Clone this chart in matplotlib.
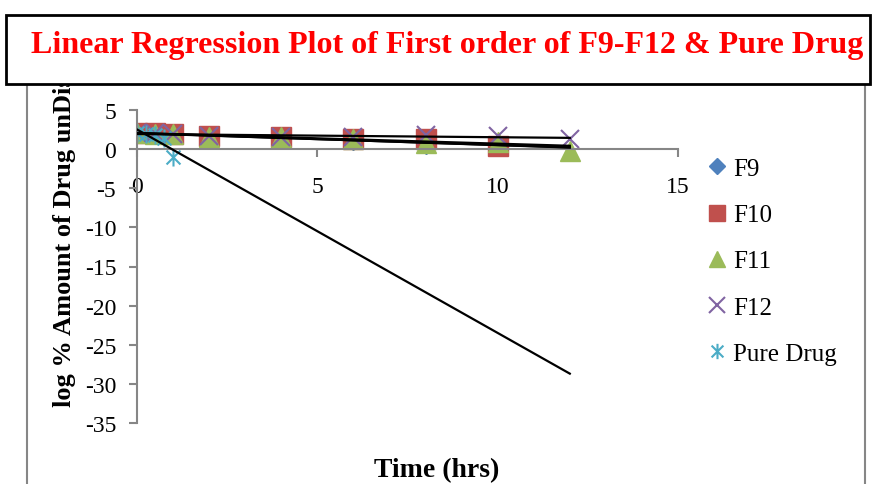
import matplotlib.pyplot as plt
import numpy as np
from matplotlib.path import Path
from matplotlib.patches import Rectangle
from matplotlib.transforms import Bbox, TransformedBbox

# data (log % amount of drug remaining vs time)
time = [0, 0.5, 1, 2, 4, 6, 8, 10, 12]
f9 = [2.0, 1.98, 1.95, 1.7, 1.4, 1.15, 0.6, 0.7]
f10 = [2.0, 2.0, 1.98, 1.65, 1.55, 1.35, 1.28, 0.4]
f11 = [2.0, 1.95, 1.9, 1.6, 1.5, 1.3, 0.8, 0.9, -0.2]
f12 = [2.0, 2.0, 1.98, 1.65, 1.6, 1.55, 1.8, 1.7, 1.3]
pure_time = [0, 0.25, 0.5, 0.75, 1]
pure = [2.0, 1.9, 1.75, 1.4, -1.0]

names = ['F9', 'F10', 'F11', 'F12', 'Pure Drug']
colors = ['#4F81BD', '#C0504D', '#9BBB59', '#8064A2', '#4BACC6']

# asterisk marker: x with a vertical stroke
ast = Path([(-1, -1), (1, 1), (-1, 1), (1, -1), (0, -1.3), (0, 1.3)],
           [Path.MOVETO, Path.LINETO, Path.MOVETO, Path.LINETO, Path.MOVETO, Path.LINETO])

plt.rcParams['font.family'] = ['Liberation Serif', 'DejaVu Serif']
plt.rcParams['axes.unicode_minus'] = False

fig = plt.figure(figsize=(8.73, 4.85), dpi=100)
ax = fig.add_axes([137 / 873, 1 - 424 / 485, (678 - 137) / 873, (424 - 111) / 485])

series = [
    (time[:len(f9)], f9, dict(marker='D', ms=10)),
    (time[:len(f10)], f10, dict(marker='s', ms=14)),
    (time[:len(f11)], f11, dict(marker='^', ms=14)),
    (time[:len(f12)], f12, dict(marker='x', ms=13, mew=1.5)),
    (pure_time, pure, dict(marker=ast, ms=13, mew=1.5)),
]

for (t, y, style), name, c in zip(series, names, colors):
    ax.plot(t, y, ls='none', color=c, mec=c, label=name, **style)

# linear trendlines
for t, y, _ in series:
    k, b = np.polyfit(t, y, 1)
    tt = np.array([0, 12])
    ax.plot(tt, k * tt + b, color='black', lw=1.6, zorder=5)

ax.set_xlim(0, 15)
ax.set_ylim(-35, 5)
ax.set_xticks([0, 5, 10, 15])
ax.set_yticks(range(-35, 6, 5))

grey = '#868686'
ax.spines['top'].set_visible(False)
ax.spines['right'].set_visible(False)
ax.spines['bottom'].set_position(('data', 0))
for s in ('left', 'bottom'):
    ax.spines[s].set_color(grey)
    ax.spines[s].set_linewidth(1.5)
ax.tick_params(axis='both', colors=grey, labelcolor='black', labelsize=17, width=1.5, length=6)
ax.tick_params(axis='x', pad=13)
ax.tick_params(axis='y', pad=9)

leg = fig.legend(loc='upper left', bbox_to_anchor=(678 / 873, 1 - 136 / 485), frameon=False,
                 fontsize=18, handletextpad=0.0, labelspacing=0.95, handlelength=1.3,
                 markerscale=0.85)

fig.text(437 / 873, 1 - 477 / 485, 'Time (hrs)', ha='center', va='baseline',
         fontsize=20, fontweight='bold')
ylab = fig.text(65 / 873, 1 - 407 / 485, 'log % Amount of Drug unDissolved', rotation=90,
                ha='center', va='bottom', fontsize=19, fontweight='bold')
ylab.set_clip_box(TransformedBbox(Bbox([[0, 0], [1, 1 - 85 / 485]]), fig.transFigure))
ylab.set_clip_on(True)

# chart area border
fig.patches.append(Rectangle((27 / 873, -0.05), (865 - 27) / 873, 1.0, transform=fig.transFigure,
                             fill=False, edgecolor=grey, lw=1.5, zorder=0))
# title box covering the top
fig.patches.append(Rectangle((6 / 873, 1 - 85 / 485), 0.99, 69 / 485, transform=fig.transFigure,
                             facecolor='white', edgecolor='black', lw=2, zorder=10))
fig.text(447 / 873, 1 - 45 / 485, 'Linear Regression Plot of First order of F9-F12 & Pure Drug',
         ha='center', va='center', color='red', fontsize=23, fontweight='bold', zorder=11)

fig.savefig('out.png')
